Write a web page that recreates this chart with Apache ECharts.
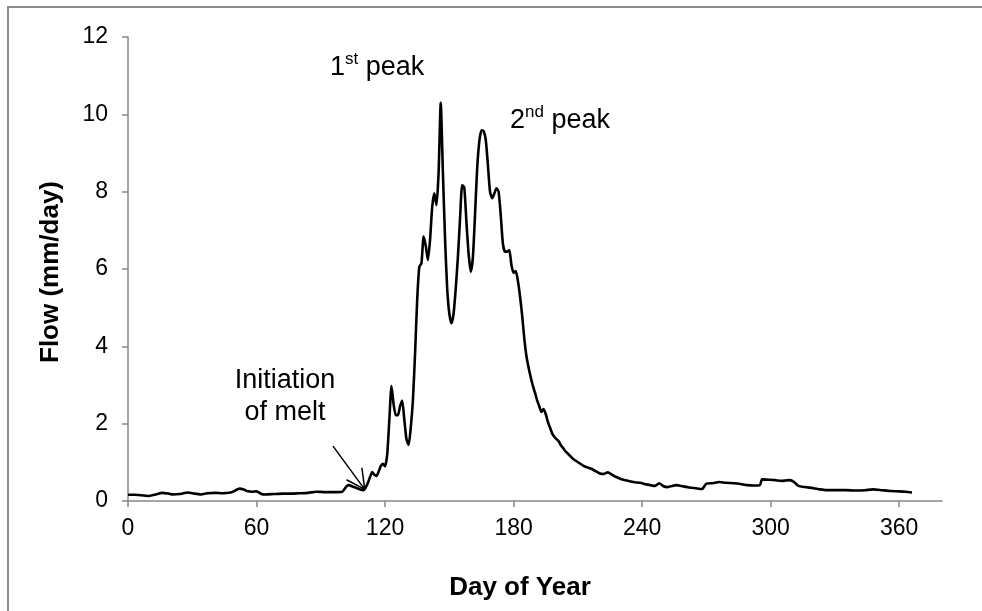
<!DOCTYPE html>
<html>
<head>
<meta charset="utf-8">
<script src="https://cdn.jsdelivr.net/npm/echarts@6/dist/echarts.min.js"></script>
<style>
html,body{margin:0;padding:0;background:#fff;}
#chart{width:982px;height:611px;}
</style>
</head>
<body>
<div id="chart"></div>
<script>
// ---- data (day of year, flow mm/day) ----
var flowDays = [0,3,6,10,13,16,19,21,24,28,31,34,37,41,44,48,50,52,54,56,58,60,62,64,68,72,76,80,84,88,92,96,100,102,103,105,107,110,111,112,113,114,115,116,117,118,119,120,121,122,123,124,125,126,127,128,129,130,131,132,133,134,135,136,137,138,139,140,141,142,143,144,145,146,147,148,149,150,151,152,153,154,155,156,157,158,159,160,161,162,163,164,165,166,167,168,169,170,171,172,173,174,175,176,177,178,179,180,181,182,183,184,185,186,187,188,189,190,191,192,193,194,195,196,197,198,199,200,201,202,203,204,206,208,211,213,216,218,220,222,224,226,228,230,233,236,239,242,246,248,250,252,254,256,259,262,265,268,270,273,276,279,283,286,289,292,295,296,299,302,305,307,309,311,313,316,320,323,326,330,335,340,344,348,352,356,360,363,366];
var flowValues = [0.16,0.16,0.15,0.13,0.17,0.21,0.19,0.17,0.18,0.22,0.19,0.17,0.2,0.21,0.2,0.22,0.27,0.32,0.3,0.25,0.24,0.25,0.19,0.17,0.18,0.19,0.19,0.2,0.21,0.24,0.23,0.23,0.24,0.38,0.41,0.37,0.33,0.28,0.35,0.47,0.62,0.75,0.68,0.65,0.76,0.9,0.96,0.9,1.2,2.1,2.97,2.5,2.22,2.22,2.45,2.6,2.1,1.6,1.45,1.9,2.6,3.8,5.2,6.06,6.15,6.84,6.6,6.23,6.75,7.6,7.96,7.65,8.5,10.3,8.5,6.8,5.5,4.85,4.6,4.85,5.5,6.3,7.3,8.17,8.1,7.2,6.4,5.93,6.3,7.4,8.6,9.3,9.59,9.57,9.35,8.7,8.0,7.83,7.95,8.09,8.0,7.4,6.66,6.45,6.45,6.49,6.1,5.9,5.95,5.7,5.3,4.8,4.2,3.75,3.45,3.2,2.98,2.8,2.6,2.45,2.3,2.38,2.25,2.05,1.9,1.75,1.66,1.6,1.55,1.45,1.38,1.3,1.19,1.08,0.97,0.9,0.84,0.78,0.72,0.7,0.74,0.68,0.62,0.57,0.53,0.49,0.47,0.43,0.39,0.46,0.38,0.36,0.39,0.41,0.38,0.35,0.33,0.31,0.45,0.46,0.49,0.47,0.46,0.44,0.41,0.4,0.41,0.56,0.55,0.54,0.52,0.53,0.54,0.49,0.39,0.36,0.33,0.3,0.28,0.28,0.28,0.27,0.28,0.3,0.28,0.26,0.25,0.24,0.22];
var xTickValues = [0,60,120,180,240,300,360];
var yTickValues = [0,2,4,6,8,10,12];
// annotation arrow (data units): tail, tip, and two barb ends
var arrowTail = [95.7,1.42];
var arrowTip = [110.5,0.3];
var arrowBarbA = [109.2,0.86];
var arrowBarbB = [102.0,0.55];

var flowData = flowDays.map(function(d,i){ return [d, flowValues[i]]; });
var arrowData = [arrowTail, arrowTip, arrowBarbA, null, arrowTip, arrowBarbB].map(function(p){ return p ? p : '-'; });

var FONT = 'Liberation Sans, Arial, sans-serif';
var AXIS = '#868686';
var chart = echarts.init(document.getElementById('chart'), null, {renderer:'canvas'});
chart.setOption({
  animation:false,
  backgroundColor:'#fff',
  grid:{left:128, top:37, right:40, bottom:110},
  xAxis:{
    type:'value', min:0, max:380, interval:60,
    axisLine:{show:true, lineStyle:{color:AXIS, width:1.5}},
    axisTick:{show:true, length:6, lineStyle:{color:AXIS, width:1.5}, customValues:xTickValues},
    axisLabel:{color:'#000', fontSize:23, fontFamily:FONT, margin:16, customValues:xTickValues},
    splitLine:{show:false}
  },
  yAxis:{
    type:'value', min:0, max:12, interval:2,
    axisLine:{show:true, lineStyle:{color:AXIS, width:1.5}},
    axisTick:{show:true, length:6, lineStyle:{color:AXIS, width:1.5}, customValues:yTickValues},
    axisLabel:{color:'#000', fontSize:23, fontFamily:FONT, margin:20, customValues:yTickValues},
    splitLine:{show:false}
  },
  series:[
    {type:'line', data:flowData, showSymbol:false, smooth:0.2,
     lineStyle:{color:'#000', width:2.6}},
    {type:'line', data:arrowData, showSymbol:false, connectNulls:false,
     lineStyle:{color:'#000', width:1.5}}
  ],
  graphic:[
    {type:'rect', shape:{x:8, y:7, width:1100, height:800}, style:{fill:null, stroke:'#8c8c8c', lineWidth:2}, silent:true, z:-1},
    {type:'text', x:51, y:272, rotation:Math.PI/2,
     style:{text:'Flow (mm/day)', font:'bold 26px '+FONT, fill:'#000', align:'center', verticalAlign:'middle'}},
    {type:'text', x:520, y:588,
     style:{text:'Day of Year', font:'bold 26px '+FONT, fill:'#000', align:'center', verticalAlign:'middle'}},
    {type:'text', x:285, y:397,
     style:{text:'Initiation\nof melt', font:'27px '+FONT, fill:'#000', align:'center', verticalAlign:'middle', lineHeight:32}},
    {type:'text', x:330, y:66,
     style:{text:'{b|1}{s|st}{b| peak}', fill:'#000', align:'left', verticalAlign:'middle',
       rich:{b:{font:'27px '+FONT, fill:'#000', verticalAlign:'bottom', lineHeight:30}, s:{font:'17px '+FONT, fill:'#000', verticalAlign:'top', lineHeight:30}}}},
    {type:'text', x:510, y:119,
     style:{text:'{b|2}{s|nd}{b| peak}', fill:'#000', align:'left', verticalAlign:'middle',
       rich:{b:{font:'27px '+FONT, fill:'#000', verticalAlign:'bottom', lineHeight:30}, s:{font:'17px '+FONT, fill:'#000', verticalAlign:'top', lineHeight:30}}}}
  ]
});
</script>
</body>
</html>
